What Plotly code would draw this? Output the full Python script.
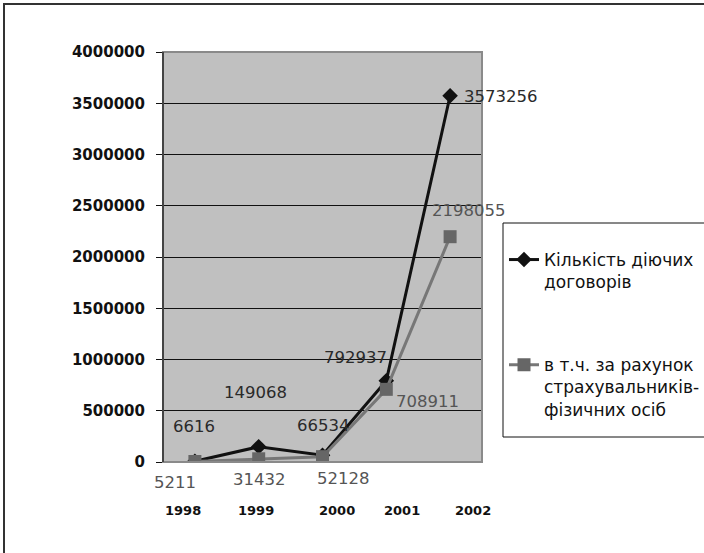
import plotly.graph_objects as go

# Data
years = ["1998", "1999", "2000", "2001", "2002"]
contracts_total = [6616, 149068, 66534, 792937, 3573256]
contracts_individuals = [5211, 31432, 52128, 708911, 2198055]
series_names = [
    "Кількість діючих<br>договорів",
    "в т.ч. за рахунок<br>страхувальників-<br>фізичних осіб",
]

# Label offsets (px) relative to each point
total_label_shift = [(-1, 35), (-3, 54), (1, 30), (-31, 23), (12, -1)]
indiv_label_shift = [(-20, -21), (1, -21), (21, -22), (41, -12), (19, 26)]
year_label_offsets = [-0.19, -0.05, 0.23, 0.25, 0.36]

W, H = 704, 553
L, R, T, B = 163, 222, 52, 91
pw, ph = W - L - R, H - T - B


def px_x(x):
    return (x - L) / pw


def px_y(y):
    return (H - B - y) / ph


fig = go.Figure()
fig.add_trace(go.Scatter(
    x=years, y=contracts_total, name=series_names[0], mode="lines+markers",
    line=dict(color="#111111", width=3),
    marker=dict(symbol="diamond", size=12, color="#111111"),
    legendgroup="a",
))
fig.add_trace(go.Scatter(
    x=years, y=contracts_individuals, name=series_names[1], mode="lines+markers",
    line=dict(color="#777777", width=3),
    marker=dict(symbol="square", size=13, color="#666666"),
    legendgroup="b",
))

ann = []
for i, (v, (dx, dy)) in enumerate(zip(contracts_total, total_label_shift)):
    ann.append(dict(x=i, y=v, xref="x", yref="y", text=f"{v}", showarrow=False,
                    xanchor="left" if i == 4 else "center", yanchor="middle",
                    xshift=dx, yshift=dy,
                    font=dict(family="DejaVu Sans", size=16.5, color="#2a2a2a")))
for i, (v, (dx, dy)) in enumerate(zip(contracts_individuals, indiv_label_shift)):
    ann.append(dict(x=i, y=v, xref="x", yref="y", text=f"{v}", showarrow=False,
                    xanchor="center", yanchor="middle",
                    xshift=dx, yshift=dy,
                    font=dict(family="DejaVu Sans", size=16.5, color="#555555")))
for i, (yr, off) in enumerate(zip(years, year_label_offsets)):
    ann.append(dict(x=i + off, y=0, xref="x", yref="y", text=f"<b>{yr}</b>",
                    showarrow=False, xanchor="center", yanchor="middle",
                    yshift=-48,
                    font=dict(family="DejaVu Sans", size=13, color="#111111")))

# outer chart frame: only the top and left edges fall inside the figure
fx0, fy0 = px_x(4), px_y(4)
fx1, fy1 = px_x(W), px_y(H)
frame_path = f"M {fx0} {fy1} L {fx0} {fy0} L {fx1} {fy0}"

shapes = [
    # plot area border
    dict(type="rect", xref="paper", yref="paper", x0=0, x1=1, y0=0, y1=1,
         line=dict(color="#8a8a8a", width=2), layer="above"),
    dict(type="line", xref="paper", yref="paper", x0=0, x1=0, y0=0, y1=1,
         line=dict(color="#444444", width=2), layer="above"),
    dict(type="path", xref="paper", yref="paper", path=frame_path,
         line=dict(color="#333333", width=2), layer="above"),
    # legend box
    dict(type="rect", xref="paper", yref="paper",
         x0=px_x(503), x1=px_x(W + 20), y0=px_y(437), y1=px_y(223),
         line=dict(color="#111111", width=1), fillcolor="white", layer="above"),
]

fig.update_layout(
    width=W, height=H,
    margin=dict(l=L, r=R, t=T, b=B, autoexpand=False),
    paper_bgcolor="white",
    plot_bgcolor="#c0c0c0",
    font=dict(family="DejaVu Sans", color="#111111"),
    showlegend=True,
    legend=dict(
        x=px_x(504), y=px_y(242), xanchor="left", yanchor="top",
        bgcolor="rgba(0,0,0,0)", borderwidth=0,
        font=dict(family="DejaVu Sans", size=17, color="#111111"),
        tracegroupgap=58, valign="top", itemwidth=30,
    ),
    annotations=ann,
    shapes=shapes,
)
fig.update_xaxes(type="category", range=[-0.5, 4.5], showgrid=False,
                 showticklabels=False, ticks="", showline=False, zeroline=False)
fig.update_yaxes(range=[0, 4000000], dtick=500000, tickformat="d",
                 showgrid=True, gridcolor="#111111", gridwidth=1,
                 zeroline=False, ticks="outside", ticklen=6, tickcolor="#111111",
                 ticklabelstandoff=8,
                 tickfont=dict(family="DejaVu Sans", size=15, color="#111111",
                               weight="bold"))

fig.write_html("out.html")
